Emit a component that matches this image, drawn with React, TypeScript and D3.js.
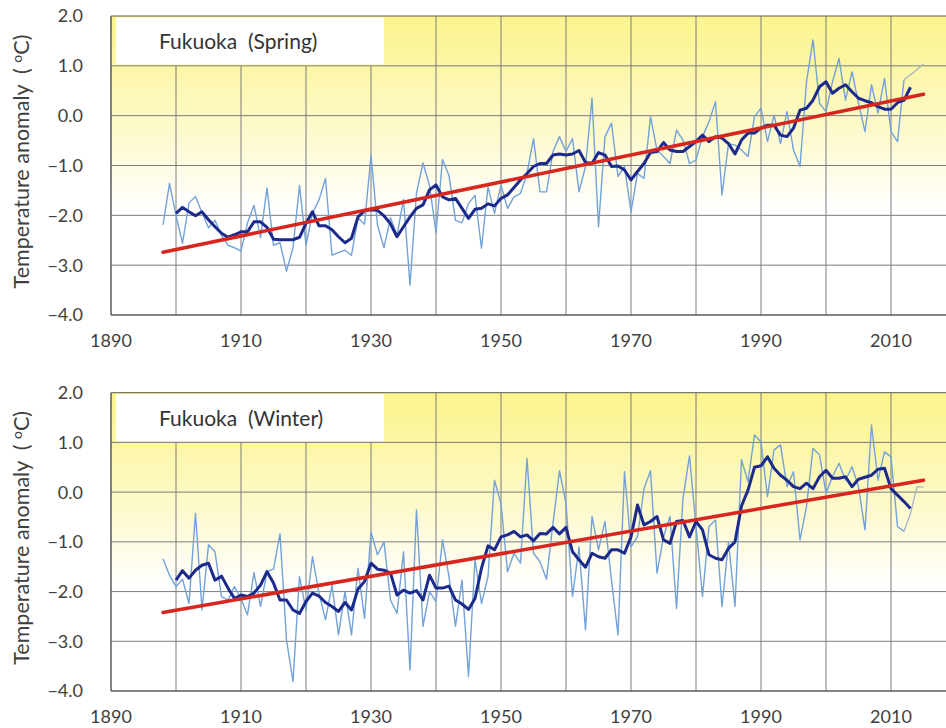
import React from 'react';
import * as d3 from 'd3';

const FIRST_YEAR = 1898;
const MA_FIRST_YEAR = 1900;
const X_TICKS = [1890, 1910, 1930, 1950, 1970, 1990, 2010];
const Y_TICKS = [2, 1, 0, -1, -2, -3, -4];
const TREND_YEARS = [1898, 2015];

const springAnnual = [
  -2.19, -1.36, -2.0, -2.56, -1.75, -1.62, -1.95, -2.25, -2.1, -2.4,
  -2.6, -2.65, -2.72, -2.15, -1.8, -2.45, -1.45, -2.6, -2.55, -3.12,
  -2.65, -1.4, -2.6, -1.96, -1.69, -1.26, -2.8, -2.75, -2.7, -2.8,
  -2.05, -2.18, -0.8, -2.2, -2.65, -2.05, -2.4, -1.68, -3.4, -1.55,
  -0.95, -1.4, -2.35, -0.88, -1.2, -2.1, -2.15, -1.76, -1.6, -2.66,
  -1.43, -1.96, -1.39, -1.86, -1.63, -1.56, -1.16, -0.46, -1.53, -1.53,
  -0.72, -0.42, -0.72, -0.46, -1.53, -1.02, 0.35, -2.23, -0.42, -0.15,
  -1.22, -1.02, -1.93, -1.16, -1.26, -0.02, -0.69, -0.82, -0.96, -0.29,
  -0.49, -0.96, -0.89, -0.42, -0.12, 0.28, -1.59, -0.56, -0.59, -0.69,
  -0.82, -0.02, 0.15, -0.52, 0.01, -0.56, 0.08, -0.69, -1.02, 0.68,
  1.52, 0.25, 0.08, 0.68, 1.15, 0.31, 0.88, 0.25, -0.32, 0.62,
  0.05, 0.75, -0.32, -0.52, 0.72, 0.82, 0.92, 1.04,
];

const springMA = [
  -1.96, -1.84, -1.93, -2.01, -1.93, -2.09, -2.23, -2.36, -2.44, -2.39,
  -2.33, -2.33, -2.13, -2.13, -2.24, -2.48, -2.49, -2.49, -2.49, -2.44,
  -2.16, -1.93, -2.21, -2.21, -2.29, -2.43, -2.55, -2.46, -2.03, -1.91,
  -1.89, -1.9, -2.01, -2.17, -2.43, -2.23, -2.03, -1.86, -1.79, -1.49,
  -1.39, -1.63, -1.69, -1.66, -1.86, -2.06, -1.88, -1.86, -1.77, -1.81,
  -1.66, -1.59, -1.44, -1.29, -1.16, -1.02, -0.96, -0.96, -0.79, -0.77,
  -0.79, -0.77, -0.7, -0.94, -0.96, -0.74, -0.79, -1.02, -1.01, -1.09,
  -1.29, -1.12, -0.96, -0.74, -0.72, -0.54, -0.69, -0.72, -0.72, -0.62,
  -0.52, -0.39, -0.52, -0.42, -0.45, -0.56, -0.77, -0.49, -0.35, -0.35,
  -0.25, -0.19, -0.19, -0.39, -0.42, -0.25, 0.11, 0.15, 0.31, 0.58,
  0.68, 0.45, 0.55, 0.62, 0.48, 0.35, 0.3, 0.26, 0.18, 0.13,
  0.13, 0.26, 0.31, 0.57,
];

const springTrend = [-2.74, 0.43];

const winterAnnual = [
  -1.34, -1.67, -1.9, -1.75, -2.24, -0.43, -2.37, -1.06, -1.2, -2.1,
  -2.17, -1.9, -2.14, -2.47, -1.62, -2.3, -1.6, -1.55, -0.84, -2.97,
  -3.81, -1.7, -2.37, -1.3, -2.03, -2.57, -1.87, -2.87, -2.0, -2.87,
  -1.53, -2.54, -0.8, -1.26, -1.0, -2.17, -2.44, -1.2, -3.58, -0.36,
  -2.7, -2.0, -2.2, -0.96, -1.7, -2.7, -1.77, -3.71, -1.36, -2.24,
  -1.7, 0.24, -0.23, -1.6, -1.23, -1.43, 0.68, -1.23, -1.4, -1.75,
  -0.63, 0.43, -0.23, -2.1, -1.1, -2.77, -0.49, -1.16, -0.59, -1.77,
  -2.87, 0.41, -1.1, -0.9, 0.07, 0.43, -1.63, -0.9, -0.49, -2.34,
  -0.12, 0.73, -0.69, -2.1, -0.69, -0.56, -2.3, -1.0, -2.3, 0.65,
  0.21, 1.15, 1.01, -0.09, 0.85, 0.95, 0.11, 0.41, -0.96, -0.29,
  0.88, 0.75, -0.02, 0.31, 0.58, 0.24, 0.51, 0.11, -0.76, 1.35,
  0.24, 0.81, 0.71, -0.69, -0.79, -0.43, 0.11, 0.1,
];

const winterMA = [
  -1.77, -1.58, -1.73, -1.57, -1.47, -1.43, -1.77, -1.69, -1.93, -2.14,
  -2.07, -2.1, -2.03, -1.87, -1.6, -1.83, -2.17, -2.17, -2.37, -2.44,
  -2.2, -2.03, -2.09, -2.22, -2.3, -2.4, -2.22, -2.37, -1.95, -1.8,
  -1.43, -1.55, -1.57, -1.63, -2.07, -1.97, -2.03, -1.98, -2.17, -1.67,
  -1.93, -1.93, -1.89, -2.17, -2.25, -2.36, -2.14, -1.53, -1.08, -1.16,
  -0.9, -0.86, -0.79, -0.9, -0.86, -0.98, -0.83, -0.84, -0.71, -0.84,
  -0.71, -1.2, -1.36, -1.51, -1.23, -1.3, -1.33, -1.16, -1.16, -1.23,
  -0.9, -0.26, -0.66, -0.59, -0.49, -0.96, -1.03, -0.59, -0.57, -0.9,
  -0.59, -0.76, -1.26, -1.33, -1.36, -1.13, -1.0, -0.28, 0.04, 0.5,
  0.53, 0.71, 0.48, 0.34, 0.24, 0.11, 0.07, 0.18, 0.07, 0.31,
  0.44, 0.28, 0.28, 0.31, 0.11, 0.26, 0.3, 0.34, 0.46, 0.48,
  0.07, -0.06, -0.19, -0.33,
];

const winterTrend = [-2.42, 0.24];

const FONT = 'Lato, "Noto Sans", sans-serif';
const TEXT = '#404040';

type PanelProps = {
  id: string;
  title: string;
  annual: number[];
  ma: number[];
  trend: number[];
  top: number;
  bottom: number;
};

const x = d3.scaleLinear().domain([1890, 2020]).range([111, 956]);

function Panel({ id, title, annual, ma, trend, top, bottom }: PanelProps) {
  const y = d3.scaleLinear().domain([-4, 2]).range([bottom, top]);
  const left = x(1890);
  const right = x(2020);
  const line = d3
    .line<[number, number]>()
    .x((d) => x(d[0]))
    .y((d) => y(d[1]));
  const annualPts: [number, number][] = annual.map((v, i) => [FIRST_YEAR + i, v]);
  const mainPts = annualPts.filter((d) => d[0] <= 2012);
  const tailPts = annualPts.filter((d) => d[0] >= 2012);
  const maPts: [number, number][] = ma.map((v, i) => [MA_FIRST_YEAR + i, v]);
  const trendPts: [number, number][] = TREND_YEARS.map((yr, i) => [yr, trend[i]]);
  const gridYears = d3.range(1900, 2030, 10);
  return (
    <g>
      <defs>
        <linearGradient id={`bg-${id}`} x1="0" y1="0" x2="0" y2="1">
          <stop offset="0" stopColor="#fbf48c" />
          <stop offset="0.17" stopColor="#fcf6a6" />
          <stop offset="0.35" stopColor="#fdf9c6" />
          <stop offset="0.52" stopColor="#fefce6" />
          <stop offset="0.64" stopColor="#ffffff" />
          <stop offset="1" stopColor="#ffffff" />
        </linearGradient>
        <clipPath id={`clip-${id}`}>
          <rect x={left} y={top} width={right - left} height={bottom - top} />
        </clipPath>
      </defs>
      <rect x={left} y={top} width={right - left} height={bottom - top} fill={`url(#bg-${id})`} />
      <rect x={116} y={top + 1.5} width={268} height={y(1) - top - 3} fill="#ffffff" />
      {gridYears.map((yr) => (
        <line key={`v${yr}`} x1={x(yr)} x2={x(yr)} y1={yr < 1940 ? y(1) : top} y2={bottom} stroke="#7d7d7d" strokeWidth={1} />
      ))}
      {Y_TICKS.map((t) => (
        <line key={`h${t}`} x1={left} x2={right} y1={y(t)} y2={y(t)} stroke={t === 2 || t === -4 ? '#5a5a5a' : '#7d7d7d'} strokeWidth={t === -4 ? 1.5 : 1} />
      ))}
      <line x1={left} x2={left} y1={top} y2={bottom} stroke="#5a5a5a" strokeWidth={1.5} />
      <g clipPath={`url(#clip-${id})`} fill="none">
        <path d={line(mainPts) || ''} stroke="#72a2d8" strokeWidth={1.4} strokeLinejoin="round" />
        <path d={line(tailPts) || ''} stroke="#a7b3c6" strokeWidth={1.3} strokeLinejoin="round" />
        <path d={line(maPts) || ''} stroke="#1c2a8c" strokeWidth={3} strokeLinejoin="round" />
        <path d={line(trendPts) || ''} stroke="#d6261e" strokeWidth={3.5} strokeLinecap="round" />
      </g>
      <text x={159} y={top + 33} fontFamily={FONT} fontSize={21} fill="#333" xmlSpace="preserve" style={{ whiteSpace: 'pre' }}>
        {title}
      </text>
      {Y_TICKS.map((t) => (
        <text key={`yl${t}`} x={83} y={y(t)} dy="0.36em" textAnchor="end" fontFamily={FONT} fontSize={18} fill={TEXT}>
          {d3.format('.1f')(t)}
        </text>
      ))}
      {X_TICKS.map((t) => (
        <text key={`xl${t}`} x={x(t)} y={bottom + 32} textAnchor="middle" fontFamily={FONT} fontSize={18} fill={TEXT}>
          {t}
        </text>
      ))}
      <text
        transform={`translate(29,${(top + bottom) / 2 - 4}) rotate(-90)`}
        textAnchor="middle"
        fontFamily={FONT}
        fontSize={21.5}
        fill={TEXT}
        xmlSpace="preserve"
        style={{ whiteSpace: 'pre' }}
      >
        {'Temperature anomaly  ( '}
        <tspan fontSize={14} dy={-7}>o</tspan>
        <tspan dy={7}>C)</tspan>
      </text>
    </g>
  );
}

export default function App() {
  return (
    <svg
      width={946}
      height={728}
      style={{ position: 'absolute', left: 0, top: 0, background: '#ffffff' }}
    >
      <rect x={0} y={0} width={946} height={728} fill="#ffffff" />
      <Panel id="spring" title="Fukuoka  (Spring)" annual={springAnnual} ma={springMA} trend={springTrend} top={16} bottom={315} />
      <Panel id="winter" title="Fukuoka  (Winter)" annual={winterAnnual} ma={winterMA} trend={winterTrend} top={392.7} bottom={691} />
    </svg>
  );
}
